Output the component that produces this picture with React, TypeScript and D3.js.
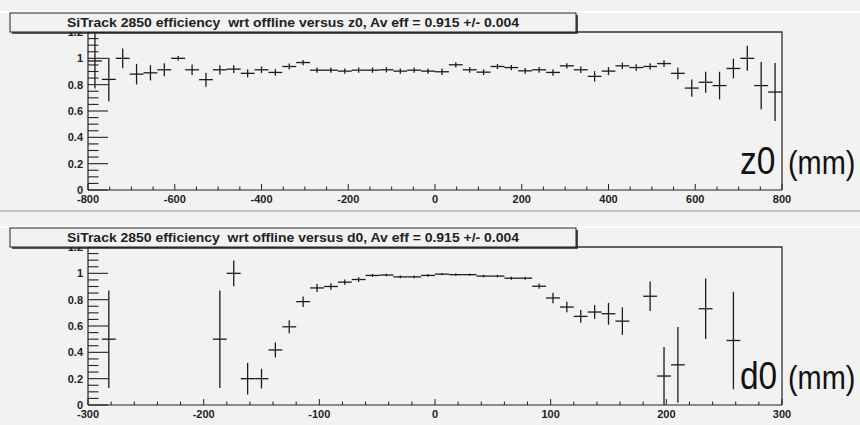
import React from 'react';
import * as d3 from 'd3';

// z0 histogram: 50 bins from -800 to 800 mm
const Z0_RANGE = [-800, 800];
const Z0_VALUES = [0.98, 0.84, 1.0, 0.88, 0.89, 0.913, 1.0, 0.913, 0.838, 0.913,
  0.918, 0.886, 0.913, 0.893, 0.938, 0.968, 0.91, 0.91, 0.903, 0.91,
  0.91, 0.913, 0.903, 0.91, 0.903, 0.898, 0.951, 0.913, 0.895, 0.938,
  0.93, 0.905, 0.913, 0.893, 0.943, 0.913, 0.863, 0.903, 0.943, 0.93,
  0.938, 0.96, 0.886, 0.774, 0.818, 0.793, 0.923, 1.0, 0.793, 0.744];
const Z0_ERRORS = [0.21, 0.165, 0.075, 0.078, 0.058, 0.05, 0.017, 0.04, 0.053, 0.035,
  0.03, 0.03, 0.025, 0.025, 0.022, 0.02, 0.02, 0.02, 0.02, 0.02,
  0.02, 0.02, 0.02, 0.02, 0.02, 0.025, 0.02, 0.022, 0.022, 0.02,
  0.02, 0.022, 0.022, 0.025, 0.02, 0.025, 0.04, 0.03, 0.025, 0.025,
  0.025, 0.025, 0.045, 0.065, 0.08, 0.105, 0.075, 0.095, 0.18, 0.22];
const Z0_TICKS = [-800, -600, -400, -200, 0, 200, 400, 600, 800];

// d0 histogram: 50 bins from -300 to 300 mm (null = empty bin)
const D0_RANGE = [-300, 300];
const D0_VALUES = [null, 0.5, null, null, null, null, null, null, null, 0.5,
  1.0, 0.2, 0.2, 0.418, 0.594, 0.785, 0.889, 0.9, 0.933, 0.953,
  0.984, 0.987, 0.973, 0.973, 0.984, 0.994, 0.99, 0.99, 0.979, 0.979,
  0.963, 0.963, 0.902, 0.813, 0.744, 0.673, 0.706, 0.693, 0.637, null,
  0.826, 0.22, 0.305, null, 0.731, null, 0.49, null, null, null];
const D0_ERRORS = [0, 0.37, 0, 0, 0, 0, 0, 0, 0, 0.37,
  0.098, 0.12, 0.075, 0.057, 0.05, 0.04, 0.03, 0.025, 0.02, 0.018,
  0.012, 0.01, 0.01, 0.01, 0.01, 0.008, 0.008, 0.008, 0.01, 0.01,
  0.012, 0.012, 0.02, 0.04, 0.04, 0.048, 0.053, 0.083, 0.105, 0,
  0.112, 0.22, 0.287, 0, 0.23, 0, 0.37, 0, 0, 0];
const D0_TICKS = [-300, -200, -100, 0, 100, 200, 300];

const Y_TICKS = [0, 0.2, 0.4, 0.6, 0.8, 1, 1.2];

const BG = '#f2f2f2';
const INK = '#1c1c1c';
const FONT = '"Liberation Sans", Arial, sans-serif';

type PanelProps = {
  top: number;
  title: string;
  range: number[];
  values: (number | null)[];
  errors: number[];
  ticks: number[];
  minorStep: number;
  varName: string;
};

const Panel = ({ top, title, range, values, errors, ticks, minorStep, varName }: PanelProps) => {
  const left = 88, right = 782;
  const frameTop = top + 19, frameBottom = top + 19 + 158;

  const x = d3.scaleLinear().domain(range).range([left, right]);
  const y = d3.scaleLinear().domain([0, 1.2]).range([frameBottom, frameTop]);

  const n = values.length;
  const bw = (range[1] - range[0]) / n;
  const minorX = d3.range(range[0], range[1] + 0.001, minorStep);
  const minorY = d3.range(0, 1.2001, 0.05);

  return (
    <g>
      {/* y labels (the 1.2 one sits under the title box, like the original) */}
      {Y_TICKS.map(t => (
        <text key={t} x={83} y={y(t)} dy="0.36em" textAnchor="end" fontSize={11}
          fontWeight="bold" fill="#222" fontFamily={FONT}>{String(t)}</text>
      ))}
      {/* frame */}
      <path d={`M${left},${frameTop}H${right}V${frameBottom}`} fill="none" stroke="#333" strokeWidth={1.3} />
      <line x1={left} x2={right} y1={frameBottom} y2={frameBottom} stroke="#222" strokeWidth={1.2} />
      <line x1={left} x2={left} y1={frameTop} y2={frameBottom} stroke="#222" strokeWidth={1.2} />
      {/* x ticks */}
      {minorX.map(t => {
        const major = ticks.some(m => Math.abs(m - t) < 1e-6);
        return <line key={t} x1={x(t)} x2={x(t)} y1={frameBottom} y2={frameBottom - (major ? 6 : 3.5)}
          stroke="#222" strokeWidth={1} />;
      })}
      {ticks.map(t => (
        <text key={t} x={x(t)} y={frameBottom + 12.5} textAnchor="middle" fontSize={11}
          fontWeight="bold" fill="#222" fontFamily={FONT}>{String(t)}</text>
      ))}
      {/* y ticks */}
      {minorY.map(t => {
        const major = Y_TICKS.some(m => Math.abs(m - t) < 1e-6);
        return <line key={t} x1={left} x2={left + (major ? 20 : 10.5)} y1={y(t)} y2={y(t)}
          stroke="#222" strokeWidth={1.1} />;
      })}
      {/* data crosses */}
      {values.map((v, i) => {
        if (v === null) return null;
        const lo = range[0] + i * bw;
        const cx = x(lo + bw / 2);
        const e = errors[i];
        return (
          <g key={i} stroke={INK} strokeWidth={1.3}>
            <line x1={x(lo)} x2={x(lo + bw)} y1={y(v)} y2={y(v)} />
            <line x1={cx} x2={cx} y1={y(Math.min(1.2, v + e))} y2={y(Math.max(0, v - e))} />
          </g>
        );
      })}
      {/* title box */}
      <rect x={10} y={top} width={566} height={19} fill={BG} stroke="#222" strokeWidth={1} />
      <path d={`M12,${top + 20}H577V${top + 2}`} fill="none" stroke="#222" strokeWidth={1.6} />
      <text x={293} y={top + 14} textAnchor="middle" fontSize={12} fontWeight="bold"
        fill="#222" fontFamily={FONT} textLength={452} lengthAdjust="spacingAndGlyphs"
        style={{ whiteSpace: 'pre' }}>{title}</text>
      {/* big axis label */}
      <text x={740} y={frameTop + 142} fontSize={38} fill="#111" fontFamily={FONT}
        transform={`translate(740,0) scale(0.88,1) translate(-740,0)`}>{varName}</text>
      <text x={788} y={frameTop + 142} fontSize={34} fill="#111" fontFamily={FONT}
        transform={`translate(788,0) scale(0.85,1) translate(-788,0)`}>(mm)</text>
    </g>
  );
};

export default function App() {
  return (
    <svg width={860} height={425} style={{ position: 'absolute', left: 0, top: 0, background: BG }}>
      <rect width={860} height={425} fill={BG} />
      <line x1={0} x2={860} y1={12} y2={12} stroke="#fff" strokeWidth={1.5} />
      <line x1={0} x2={860} y1={211} y2={211} stroke="#c4c4c4" strokeWidth={2} />
      <line x1={0} x2={860} y1={227} y2={227} stroke="#fff" strokeWidth={1.5} />
      <Panel top={13} title="SiTrack 2850 efficiency  wrt offline versus z0, Av eff = 0.915 +/- 0.004"
        range={Z0_RANGE} values={Z0_VALUES} errors={Z0_ERRORS} ticks={Z0_TICKS} minorStep={50} varName="z0" />
      <Panel top={228} title="SiTrack 2850 efficiency  wrt offline versus d0, Av eff = 0.915 +/- 0.004"
        range={D0_RANGE} values={D0_VALUES} errors={D0_ERRORS} ticks={D0_TICKS} minorStep={20} varName="d0" />
    </svg>
  );
}
